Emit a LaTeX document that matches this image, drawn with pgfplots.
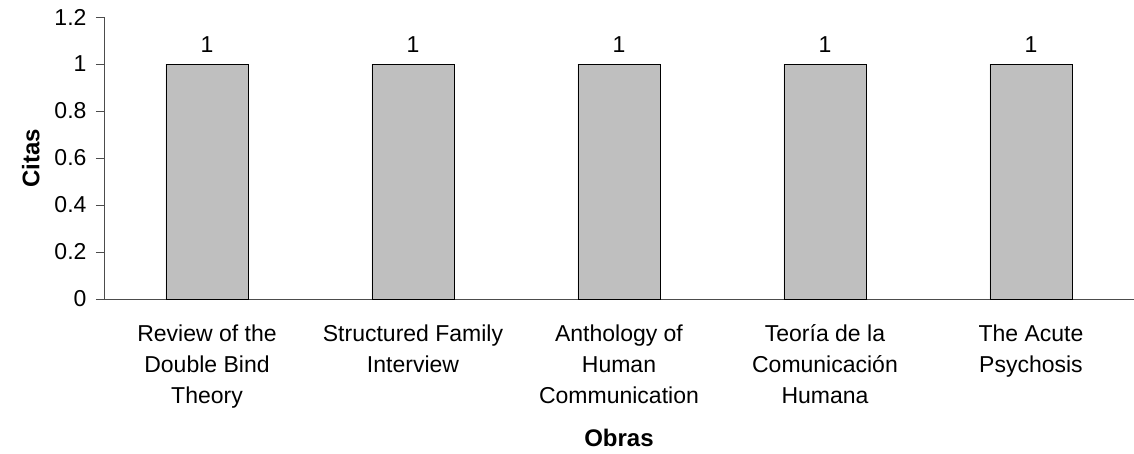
\documentclass[border=0pt]{standalone}
\usepackage{pgfplots}
\pgfplotsset{compat=1.18}
\usepackage{fontspec}
\setmainfont{Liberation Sans}
\begin{document}
\begin{tikzpicture}
\begin{axis}[
  at={(0pt,0pt)}, anchor=south west,
  scale only axis,
  width=1030pt, height=282pt,
  xmin=-0.5, xmax=4.5,
  ymin=0, ymax=1.2,
  axis x line=bottom, axis y line=left,
  axis line style={-, draw=black!70, line width=0.8pt},
  ytick={0,0.2,...,1.2},
  yticklabels={0,0.2,0.4,0.6,0.8,1,1.2},
  y tick label style={xshift=-6pt},
  xtick={0,1,2,3,4},
  xticklabels={{Review of the\\Double Bind\\Theory}, {Structured Family\\Interview}, {Anthology of\\Human\\Communication}, {Teoría de la\\Comunicación\\Humana}, {The Acute\\Psychosis}},
  x tick label style={align=center, yshift=-14pt},
  major x tick style={draw=none},
  extra x ticks={-0.5,0.5,1.5,2.5,3.5,4.5},
  extra x tick labels={},
  extra x tick style={major tick style={draw=black!70, line width=0.8pt}},
  tick align=outside,
  major tick length=8pt,
  tick style={draw=black!70, line width=0.8pt},
  ticklabel style={font=\fontsize{23}{31}\selectfont},
  /pgf/number format/assume math mode=true,
  xlabel={\textbf{Obras}},
  ylabel={\textbf{Citas}},
  label style={font=\fontsize{24}{30}\selectfont},
  xlabel style={yshift=2pt},
  ylabel style={yshift=8pt},
  ybar, bar width=82pt,
  nodes near coords,
  nodes near coords style={font=\fontsize{23}{28}\selectfont, yshift=8pt},
]
\addplot[fill=black!25, draw=black, line width=0.9pt] coordinates {(0,1) (1,1) (2,1) (3,1) (4,1)};
\end{axis}
\pgfresetboundingbox
\path[use as bounding box] (-104pt,-154pt) rectangle (1030pt,299pt);
\end{tikzpicture}
\end{document}
